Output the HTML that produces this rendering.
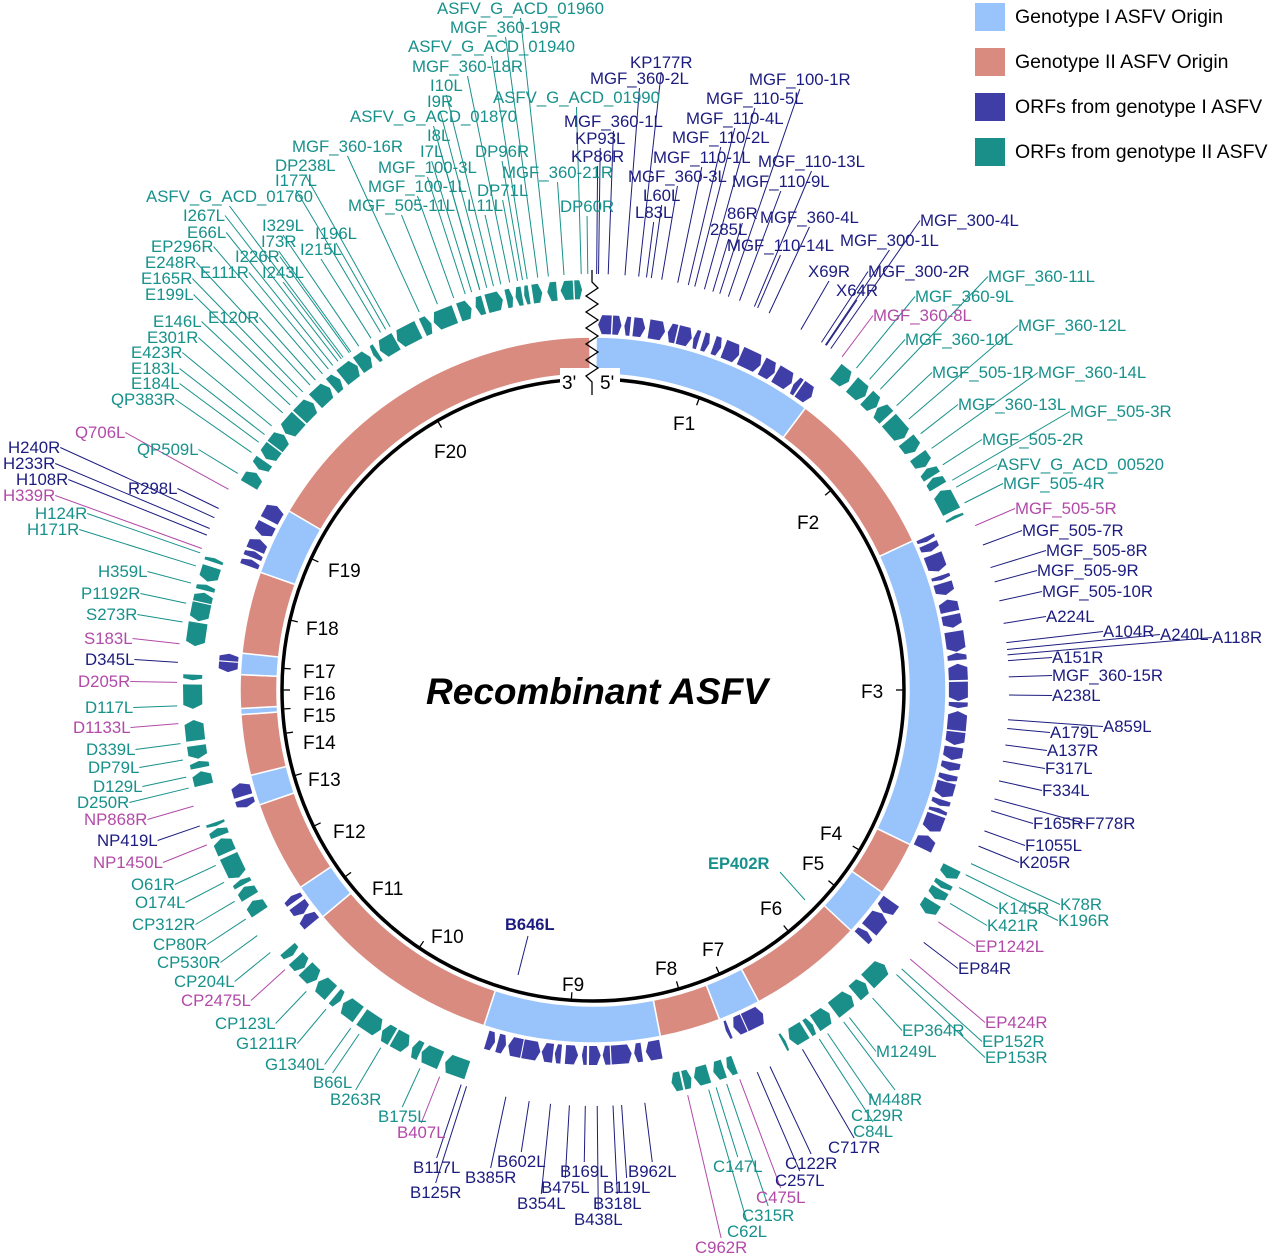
<!DOCTYPE html>
<html><head><meta charset="utf-8">
<style>
html,body{margin:0;padding:0;background:#fff;}
svg{display:block;}
text{font-family:"Liberation Sans",Arial,sans-serif;}
.l{font-size:16.8px;}
.t{fill:#17918b;} .n{fill:#1c1c80;} .p{fill:#b24aa8;}
.f{font-size:19px;fill:#000;}
.lg{font-size:19.5px;}
</style></head>
<body>
<svg id="s" width="1268" height="1257" viewBox="0 0 1268 1257" xmlns="http://www.w3.org/2000/svg">
<g id="lines"></g>
<g id="ring"></g>
<g id="genes"></g>
<circle cx="593" cy="690" r="311" fill="none" stroke="#000" stroke-width="3.5"/>
<g id="ticks"></g>
<rect x="560" y="368" width="60" height="24" fill="#fff"/>
<polyline points="592,270 592,282 598,288 586,296 598,304 586,312 598,320 586,328 598,336 586,344 598,352 586,360 598,368 586,376 592,382 592,395" fill="none" stroke="#000" stroke-width="1.3"/>
<text x="562" y="389" class="f">3'</text><text x="600" y="389" class="f">5'</text>
<text x="597" y="704" text-anchor="middle" style="font-size:37px;font-weight:bold;font-style:italic">Recombinant ASFV</text>
<g class="f">
<text x="673" y="430">F1</text><text x="797" y="529">F2</text><text x="861" y="698">F3</text>
<text x="820" y="840">F4</text><text x="802" y="870">F5</text><text x="760" y="915">F6</text>
<text x="702" y="956">F7</text><text x="655" y="975">F8</text><text x="562" y="991">F9</text>
<text x="431" y="943">F10</text><text x="372" y="895">F11</text><text x="333" y="838">F12</text>
<text x="308" y="786">F13</text><text x="303" y="749">F14</text><text x="303" y="722">F15</text>
<text x="303" y="700">F16</text><text x="303" y="678">F17</text><text x="306" y="635">F18</text>
<text x="328" y="577">F19</text><text x="434" y="458">F20</text>
</g>
<!-- legend -->
<rect x="975" y="3" width="30" height="28" fill="#99c4fb"/><text x="1015" y="23" class="lg">Genotype I ASFV Origin</text>
<rect x="975" y="48" width="30" height="28" fill="#d98b80"/><text x="1015" y="68" class="lg">Genotype II ASFV Origin</text>
<rect x="975" y="93" width="30" height="28" fill="#3f3ea6"/><text x="1015" y="113" class="lg">ORFs from genotype I ASFV</text>
<rect x="975" y="138" width="30" height="28" fill="#1a8f8a"/><text x="1015" y="158" class="lg">ORFs from genotype II ASFV</text>
<text x="708" y="869" class="t" style="font-size:16.5px;font-weight:bold">EP402R</text>
<text x="505" y="930" class="n" style="font-size:16.5px;font-weight:bold">B646L</text>
<line x1="780" y1="872" x2="805" y2="900" stroke="#17918b"/>
<line x1="528" y1="936" x2="518" y2="975" stroke="#1c1c80"/>
<g id="labs" class="l">
<text x="437" y="22" class="t">ASFV_G_ACD_01960</text>
<text x="450" y="41" class="t">MGF_360-19R</text>
<text x="408" y="60" class="t">ASFV_G_ACD_01940</text>
<text x="412" y="80" class="t">MGF_360-18R</text>
<text x="430" y="99" class="t">I10L</text>
<text x="427" y="115" class="t">I9R</text>
<text x="493" y="111" class="t">ASFV_G_ACD_01990</text>
<text x="350" y="130" class="t">ASFV_G_ACD_01870</text>
<text x="427" y="149" class="t">I8L</text>
<text x="420" y="165" class="t">I7L</text>
<text x="475" y="165" class="t">DP96R</text>
<text x="292" y="160" class="t">MGF_360-16R</text>
<text x="378" y="181" class="t">MGF_100-3L</text>
<text x="502" y="186" class="t">MGF_360-21R</text>
<text x="275" y="179" class="t">DP238L</text>
<text x="368" y="200" class="t">MGF_100-1L</text>
<text x="477" y="204" class="t">DP71L</text>
<text x="275" y="194" class="t">I177L</text>
<text x="146" y="210" class="t">ASFV_G_ACD_01760</text>
<text x="348" y="219" class="t">MGF_505-11L</text>
<text x="467" y="219" class="t">L11L</text>
<text x="560" y="220" class="t">DP60R</text>
<text x="183" y="229" class="t">I267L</text>
<text x="262" y="239" class="t">I329L</text>
<text x="315" y="247" class="t">I196L</text>
<text x="187" y="246" class="t">E66L</text>
<text x="261" y="255" class="t">I73R</text>
<text x="300" y="263" class="t">I215L</text>
<text x="151" y="260" class="t">EP296R</text>
<text x="235" y="270" class="t">I226R</text>
<text x="145" y="276" class="t">E248R</text>
<text x="200" y="286" class="t">E111R</text>
<text x="262" y="286" class="t">I243L</text>
<text x="141" y="292" class="t">E165R</text>
<text x="145" y="308" class="t">E199L</text>
<text x="208" y="331" class="t">E120R</text>
<text x="153" y="335" class="t">E146L</text>
<text x="147" y="351" class="t">E301R</text>
<text x="131" y="366" class="t">E423R</text>
<text x="131" y="382" class="t">E183L</text>
<text x="131" y="397" class="t">E184L</text>
<text x="111" y="413" class="t">QP383R</text>
<text x="75" y="446" class="p">Q706L</text>
<text x="137" y="463" class="t">QP509L</text>
<text x="8" y="461" class="n">H240R</text>
<text x="3" y="477" class="n">H233R</text>
<text x="16" y="493" class="n">H108R</text>
<text x="128" y="502" class="n">R298L</text>
<text x="3" y="509" class="p">H339R</text>
<text x="35" y="527" class="t">H124R</text>
<text x="27" y="543" class="t">H171R</text>
<text x="98" y="585" class="t">H359L</text>
<text x="81" y="607" class="t">P1192R</text>
<text x="86" y="628" class="t">S273R</text>
<text x="84" y="652" class="p">S183L</text>
<text x="85" y="673" class="n">D345L</text>
<text x="78" y="695" class="p">D205R</text>
<text x="85" y="721" class="t">D117L</text>
<text x="73" y="741" class="p">D1133L</text>
<text x="86" y="763" class="t">D339L</text>
<text x="88" y="781" class="t">DP79L</text>
<text x="93" y="800" class="t">D129L</text>
<text x="77" y="816" class="t">D250R</text>
<text x="84" y="833" class="p">NP868R</text>
<text x="97" y="854" class="n">NP419L</text>
<text x="93" y="876" class="p">NP1450L</text>
<text x="131" y="898" class="t">O61R</text>
<text x="135" y="916" class="t">O174L</text>
<text x="132" y="938" class="t">CP312R</text>
<text x="153" y="958" class="t">CP80R</text>
<text x="157" y="976" class="t">CP530R</text>
<text x="174" y="995" class="t">CP204L</text>
<text x="181" y="1014" class="p">CP2475L</text>
<text x="215" y="1037" class="t">CP123L</text>
<text x="236" y="1057" class="t">G1211R</text>
<text x="265" y="1078" class="t">G1340L</text>
<text x="313" y="1096" class="t">B66L</text>
<text x="330" y="1113" class="t">B263R</text>
<text x="378" y="1130" class="t">B175L</text>
<text x="397" y="1146" class="p">B407L</text>
<text x="413" y="1181" class="n">B117L</text>
<text x="410" y="1206" class="n">B125R</text>
<text x="465" y="1191" class="n">B385R</text>
<text x="497" y="1175" class="n">B602L</text>
<text x="560" y="1185" class="n">B169L</text>
<text x="541" y="1201" class="n">B475L</text>
<text x="517" y="1217" class="n">B354L</text>
<text x="628" y="1185" class="n">B962L</text>
<text x="603" y="1201" class="n">B119L</text>
<text x="593" y="1217" class="n">B318L</text>
<text x="574" y="1233" class="n">B438L</text>
<text x="713" y="1180" class="t">C147L</text>
<text x="785" y="1177" class="n">C122R</text>
<text x="775" y="1194" class="n">C257L</text>
<text x="756" y="1211" class="p">C475L</text>
<text x="742" y="1229" class="t">C315R</text>
<text x="727" y="1245" class="t">C62L</text>
<text x="695" y="1261" class="p">C962R</text>
<text x="828" y="1161" class="n">C717R</text>
<text x="853" y="1145" class="t">C84L</text>
<text x="851" y="1129" class="t">C129R</text>
<text x="868" y="1113" class="t">M448R</text>
<text x="876" y="1065" class="t">M1249L</text>
<text x="902" y="1044" class="t">EP364R</text>
<text x="985" y="1036" class="p">EP424R</text>
<text x="982" y="1055" class="t">EP152R</text>
<text x="985" y="1071" class="t">EP153R</text>
<text x="958" y="982" class="n">EP84R</text>
<text x="975" y="960" class="p">EP1242L</text>
<text x="987" y="939" class="t">K421R</text>
<text x="998" y="922" class="t">K145R</text>
<text x="1058" y="934" class="t">K196R</text>
<text x="1060" y="918" class="t">K78R</text>
<text x="1019" y="876" class="n">K205R</text>
<text x="1025" y="859" class="n">F1055L</text>
<text x="1033" y="837" class="n">F165R</text>
<text x="1085" y="837" class="n">F778R</text>
<text x="1042" y="804" class="n">F334L</text>
<text x="1045" y="782" class="n">F317L</text>
<text x="1047" y="764" class="n">A137R</text>
<text x="1050" y="746" class="n">A179L</text>
<text x="1103" y="740" class="n">A859L</text>
<text x="1052" y="709" class="n">A238L</text>
<text x="1052" y="689" class="n">MGF_360-15R</text>
<text x="1052" y="671" class="n">A151R</text>
<text x="1103" y="645" class="n">A104R</text>
<text x="1160" y="648" class="n">A240L</text>
<text x="1212" y="651" class="n">A118R</text>
<text x="1046" y="630" class="n">A224L</text>
<text x="1042" y="605" class="n">MGF_505-10R</text>
<text x="1037" y="584" class="n">MGF_505-9R</text>
<text x="1046" y="564" class="n">MGF_505-8R</text>
<text x="1022" y="544" class="n">MGF_505-7R</text>
<text x="1015" y="522" class="p">MGF_505-5R</text>
<text x="1003" y="497" class="t">MGF_505-4R</text>
<text x="997" y="478" class="t">ASFV_G_ACD_00520</text>
<text x="982" y="453" class="t">MGF_505-2R</text>
<text x="1070" y="425" class="t">MGF_505-3R</text>
<text x="958" y="418" class="t">MGF_360-13L</text>
<text x="932" y="386" class="t">MGF_505-1R</text>
<text x="1038" y="386" class="t">MGF_360-14L</text>
<text x="905" y="353" class="t">MGF_360-10L</text>
<text x="1018" y="339" class="t">MGF_360-12L</text>
<text x="873" y="329" class="p">MGF_360-8L</text>
<text x="915" y="310" class="t">MGF_360-9L</text>
<text x="988" y="290" class="t">MGF_360-11L</text>
<text x="868" y="285" class="n">MGF_300-2R</text>
<text x="836" y="304" class="n">X64R</text>
<text x="808" y="285" class="n">X69R</text>
<text x="840" y="254" class="n">MGF_300-1L</text>
<text x="920" y="234" class="n">MGF_300-4L</text>
<text x="727" y="259" class="n">MGF_110-14L</text>
<text x="710" y="243" class="n">285L</text>
<text x="760" y="231" class="n">MGF_360-4L</text>
<text x="727" y="227" class="n">86R</text>
<text x="732" y="195" class="n">MGF_110-9L</text>
<text x="758" y="175" class="n">MGF_110-13L</text>
<text x="635" y="226" class="n">L83L</text>
<text x="643" y="209" class="n">L60L</text>
<text x="628" y="190" class="n">MGF_360-3L</text>
<text x="653" y="171" class="n">MGF_110-1L</text>
<text x="672" y="151" class="n">MGF_110-2L</text>
<text x="686" y="132" class="n">MGF_110-4L</text>
<text x="706" y="112" class="n">MGF_110-5L</text>
<text x="749" y="93" class="n">MGF_100-1R</text>
<text x="571" y="170" class="n">KP86R</text>
<text x="575" y="152" class="n">KP93L</text>
<text x="564" y="135" class="n">MGF_360-1L</text>
<text x="590" y="92" class="n">MGF_360-2L</text>
<text x="630" y="76" class="n">KP177R</text>
</g>
</svg>
<script>
(function(){
var NS="http://www.w3.org/2000/svg",cx=593,cy=690;
function P(a,r){var t=(a-90)*Math.PI/180;return [cx+r*Math.cos(t),cy+r*Math.sin(t)];}
function el(n,at,par){var e=document.createElementNS(NS,n);for(var k in at)e.setAttribute(k,at[k]);par.appendChild(e);return e;}
var segs=[[0.5,37,1],[37,65,0],[65,116,1],[116,125,0],[125,133,1],[133,152,0],[152,159,1],[159,169,0],[169,198,1],[198,230,0],[230,236,1],[236,251,0],[251,256,1],[256,266,0],[266,267,1],[267,272.5,0],[272.5,276,1],[276,289.5,0],[289.5,300.5,1],[300.5,359.5,0]];
var ring=document.getElementById('ring'),genes=document.getElementById('genes');
function arcPath(a0,a1,r0,r1){var p0=P(a0,r1),p1=P(a1,r1),p2=P(a1,r0),p3=P(a0,r0),lg=(a1-a0)>180?1:0;
return "M"+p0+" A"+r1+","+r1+" 0 "+lg+" 1 "+p1+" L"+p2+" A"+r0+","+r0+" 0 "+lg+" 0 "+p3+"Z";}
segs.forEach(function(s){el('path',{d:arcPath(s[0],s[1],316,353),fill:s[2]?'#99c4fb':'#d98b80',stroke:'#fff','stroke-width':1.5},ring);});
var seed=7;function rnd(){seed=(seed*9301+49297)%233280;return seed/233280;}
segs.forEach(function(s){
 var blue=s[2],r0=blue?356:391,r1=blue?375:410,col=blue?'#3f3ea6':'#1a8f8a';
 var a=s[0]+0.3;
 while(a<s[1]-0.6){
  var w=0.7+rnd()*2.8; if(a+w>s[1]-0.3)w=s[1]-0.3-a; if(w<0.4)break;
  var dir=rnd()<0.5?1:-1,tip=Math.min(0.6,w*0.35);
  var pts=[];
  if(dir>0){pts=[P(a,r0),P(a,r1),P(a+w-tip,r1),P(a+w,(r0+r1)/2),P(a+w-tip,r0)];}
  else{pts=[P(a+tip,r0),P(a,(r0+r1)/2),P(a+tip,r1),P(a+w,r1),P(a+w,r0)];}
  el('polygon',{points:pts.map(function(p){return p[0].toFixed(1)+','+p[1].toFixed(1);}).join(' '),fill:col},genes);
  a+=w+0.15+rnd()*0.6;
 }
});
var tk=document.getElementById('ticks');
[20,50,90,121,129,141,156,164,184,214,233,244,254,262,266.5,270,274,283,295,330].forEach(function(a){var p=P(a,311),q=P(a,303);el('line',{x1:p[0],y1:p[1],x2:q[0],y2:q[1],stroke:'#000','stroke-width':1.3},tk);});
var lg=document.getElementById('lines'),cols={t:'#17918b',n:'#1c1c80',p:'#b24aa8'};
Array.prototype.forEach.call(document.querySelectorAll('#labs text'),function(t){
 t.setAttribute('y',parseFloat(t.getAttribute('y'))-8);
 var b=t.getBBox(),ax,ay,mx=b.x+b.width/2,my=b.y+b.height/2;
 var dx=mx-cx,dy=my-cy;
 if(Math.abs(dy)>Math.abs(dx)*1.3){ax=mx;ay=dy<0?b.y+b.height:b.y;}
 else{ax=dx>0?b.x:b.x+b.width;ay=my;}
 var ang=Math.atan2(ax-cx,-(ay-cy))*180/Math.PI;
 var e=P(ang,416);
 el('line',{x1:ax,y1:ay,x2:e[0],y2:e[1],stroke:cols[t.getAttribute('class')],'stroke-width':1},lg);
});
})();
</script>
</body></html>
